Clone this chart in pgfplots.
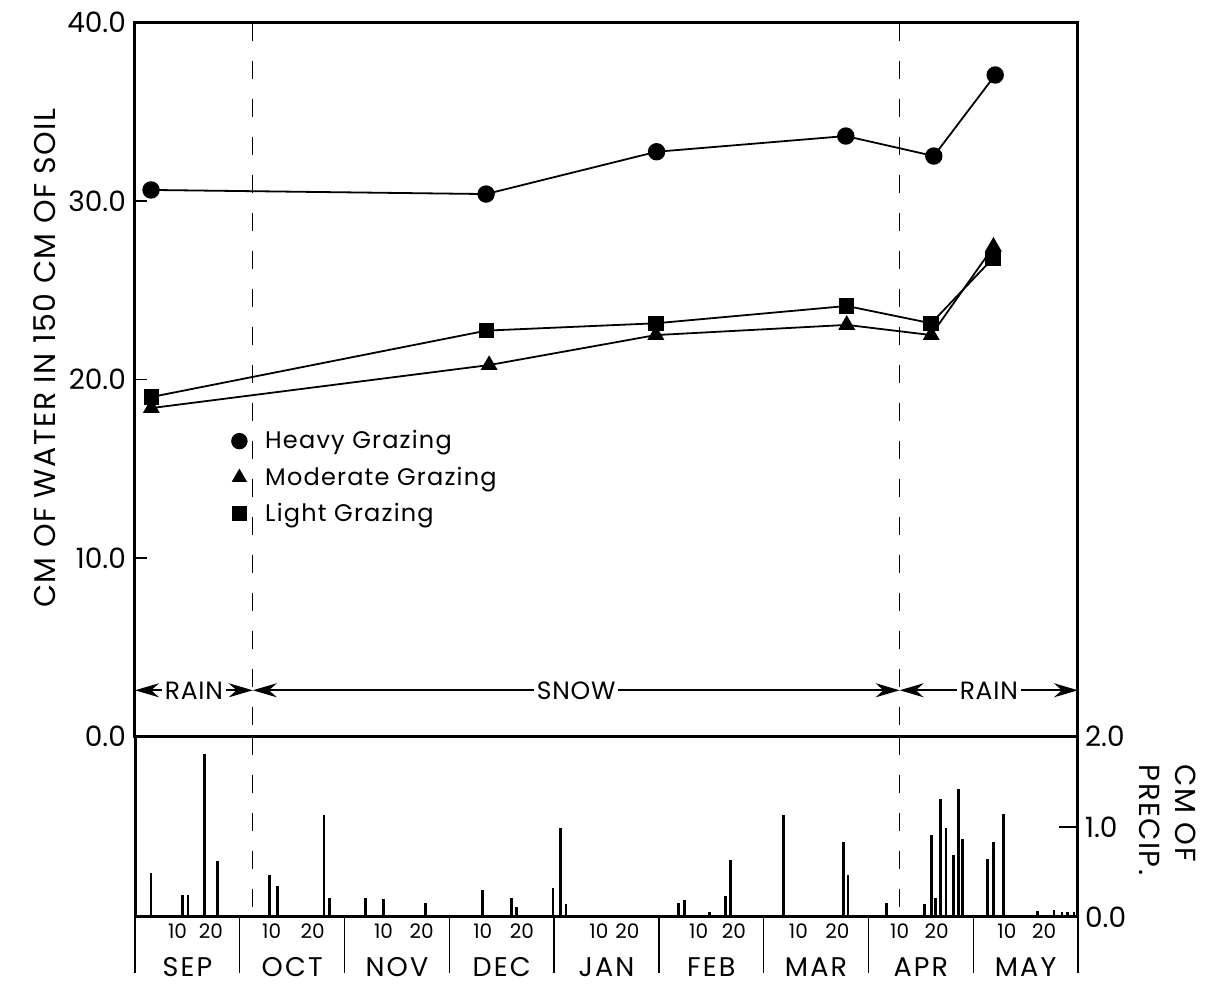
\documentclass[border=0pt]{standalone}
\usepackage{fontspec}
\setmainfont{Poppins}
\usepackage{pgfplots}
\pgfplotsset{compat=1.18}
\usetikzlibrary{arrows.meta}
\tikzset{
  month/.style={font=\fontsize{13.5}{14}\selectfont\addfontfeature{LetterSpace=8}, yshift=-25pt},
  rarr/.style={line width=0.9pt, {Stealth[length=12pt,width=7pt]}-{Stealth[length=12pt,width=7pt]}},
  lab/.style={fill=white, inner sep=1.5pt, font=\fontsize{12.5}{13}\selectfont\addfontfeature{LetterSpace=3}},
  dline/.style={line width=0.6pt, dash pattern=on 9pt off 10pt},
}
\begin{document}
\begin{tikzpicture}
\path[use as bounding box] (0,0) rectangle (603.5pt,492pt);
% ---------------- upper panel ----------------
\begin{axis}[
  at={(67.5pt,123.65pt)}, anchor=south west, scale only axis,
  width=471.5pt, height=357pt,
  xmin=0, xmax=9, ymin=0, ymax=40,
  clip=false,
  axis line style={line width=1.5pt},
  xtick=\empty,
  ytick={0,10,20,30,40}, yticklabels={0.0,10.0,20.0,30.0,40.0},
  ytick pos=left, tick align=inside, major tick length=6pt,
  ytick style={line width=0.8pt, black},
  yticklabel style={font=\fontsize{14}{14}\selectfont, xshift=-1pt},
  /pgf/number format/assume math mode=true,
  legend style={draw=none, fill=none, at={(axis description cs:0.102,0.435)}, anchor=north west,
    font=\fontsize{12}{12.5}\selectfont\addfontfeature{LetterSpace=5}, row sep=3.5pt, column sep=7pt, inner sep=0pt},
  legend cell align=left,
  legend image code/.code={\draw[#1] plot coordinates {(0pt,0pt)};},
]
\addlegendimage{only marks, mark=*, mark size=3.9pt, black}
\addlegendentry{Heavy Grazing}
\addlegendimage{only marks, mark=triangle*, mark size=4pt, black}
\addlegendentry{Moderate Grazing}
\addlegendimage{only marks, mark=square*, mark size=3.4pt, black}
\addlegendentry{Light Grazing}

\addplot[forget plot, black, line width=0.9pt, mark=*, mark size=3.9pt] coordinates {
 (0.153,30.63) (3.351,30.40) (4.978,32.77) (6.784,33.65) (7.624,32.53) (8.210,37.07)};
\addplot[forget plot, black, line width=0.9pt, mark=triangle*, mark size=4pt] coordinates {
 (0.156,18.41) (3.38,20.82) (4.971,22.5) (6.793,23.07) (7.599,22.5) (8.193,27.45)};
\addplot[forget plot, black, line width=0.9pt, mark=square*, mark size=3.4pt] coordinates {
 (0.156,19.03) (3.355,22.75) (4.971,23.16) (6.793,24.13) (7.599,23.16) (8.188,26.80)};

\draw[dline] (axis cs:1.124,40) -- (axis cs:1.124,0);
\draw[dline] (axis cs:7.298,40) -- (axis cs:7.298,0);

\draw[rarr] (axis cs:0,2.6) -- (axis cs:1.124,2.6) node[midway, lab]{RAIN};
\draw[rarr] (axis cs:1.124,2.6) -- (axis cs:7.298,2.6) node[midway, lab]{SNOW};
\draw[rarr] (axis cs:7.298,2.6) -- (axis cs:9,2.6) node[midway, lab]{RAIN};
\end{axis}
% ---------------- lower panel ----------------
\begin{axis}[
  at={(67.5pt,33.5pt)}, anchor=south west, scale only axis,
  width=471.5pt, height=90.15pt,
  xmin=0, xmax=9, ymin=0, ymax=2,
  clip=false,
  axis line style={line width=1.5pt},
  ytick={0,1,2}, yticklabels={0.0,1.0,2.0},
  ytick pos=right, yticklabel pos=right, tick align=inside, major tick length=9.5pt,
  ytick style={line width=0.8pt, black},
  yticklabel style={font=\fontsize{14}{14}\selectfont, xshift=0pt},
  xtick={0.406,0.725,1.304,1.696,2.372,2.735,3.319,3.693,4.427,4.699,5.38,5.716,6.331,6.703,7.298,7.65,8.321,8.676},
  xticklabels={10,20,10,20,10,20,10,20,10,20,10,20,10,20,10,20,10,20},
  xtick pos=bottom,
  xtick style={draw=none},
  xticklabel style={font=\fontsize{10}{10}\selectfont},
  extra x ticks={0,1,2,3,4,5,6,7,8,9},
  extra x tick labels={},
  extra x tick style={major tick length=28pt, tick align=outside, xtick style={draw=black, line width=0.7pt}},
  /pgf/number format/assume math mode=true,
]
\addplot[ycomb, black, line width=1.4pt, mark=none] coordinates {
 (0.153,0.49) (0.452,0.24) (0.505,0.24) (0.663,1.81) (0.786,0.62)
 (1.281,0.47) (1.360,0.34) (1.804,1.13) (1.856,0.21)
 (2.198,0.21) (2.370,0.20) (2.771,0.16)
 (3.319,0.30) (3.591,0.21) (3.642,0.11) (3.99,0.32)
 (4.061,0.99) (4.114,0.14)
 (5.185,0.16) (5.243,0.19) (5.486,0.06) (5.633,0.23) (5.684,0.63)
 (6.189,1.13) (6.759,0.83) (6.805,0.47)
 (7.175,0.16) (7.537,0.14) (7.602,0.91) (7.638,0.21) (7.686,1.31) (7.741,0.99) (7.809,0.69) (7.857,1.42) (7.900,0.87)
 (8.140,0.64) (8.190,0.83) (8.289,1.14) (8.612,0.07) (8.771,0.08) (8.848,0.06) (8.899,0.06) (8.962,0.06)};
\draw[dline] (axis cs:1.124,2) -- (axis cs:1.124,0);
\draw[dline] (axis cs:7.298,2) -- (axis cs:7.298,0);
\node[month] at (axis cs:0.5,0) {SEP};
\node[month] at (axis cs:1.5,0) {OCT};
\node[month] at (axis cs:2.5,0) {NOV};
\node[month] at (axis cs:3.5,0) {DEC};
\node[month] at (axis cs:4.5,0) {JAN};
\node[month] at (axis cs:5.5,0) {FEB};
\node[month] at (axis cs:6.5,0) {MAR};
\node[month] at (axis cs:7.5,0) {APR};
\node[month] at (axis cs:8.5,0) {MAY};
\end{axis}
% ---------------- axis titles ----------------
\node[rotate=90, font=\fontsize{15}{15}\selectfont\addfontfeature{LetterSpace=5}] at (22.5pt,313pt) {CM OF WATER IN 150 CM OF SOIL};
\node[rotate=-90, align=left, font=\fontsize{14.5}{18}\selectfont\addfontfeature{LetterSpace=5}, anchor=center] at (584pt,82pt) {CM OF\\PRECIP.};
\end{tikzpicture}
\end{document}
